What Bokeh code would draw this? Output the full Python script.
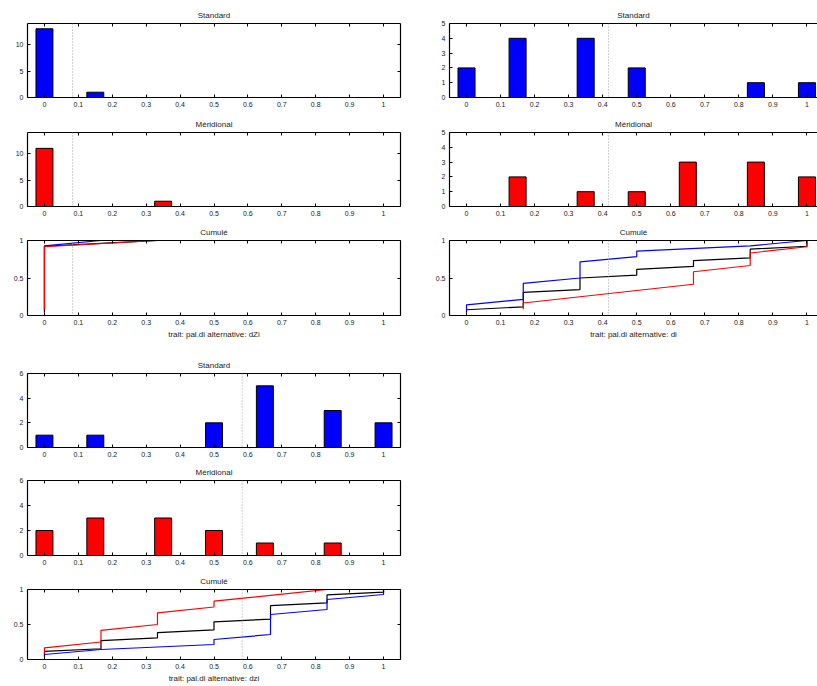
from bokeh.plotting import figure
from bokeh.layouts import column, row
from bokeh.models import (Range1d, LinearAxis, FixedTicker, PrintfTickFormatter, Span,
                          CustomLabelingPolicy)
from bokeh.embed import file_html
from bokeh.resources import INLINE

# Trait levels (0 .. 1 in sixths) and where the histogram bars are drawn
levels = [0, 1/6, 2/6, 3/6, 4/6, 5/6, 1]
bin_centers = [0, 0.15, 0.35, 0.5, 0.65, 0.85, 1]
x_ticks = [0, 0.1, 0.2, 0.3, 0.4, 0.5, 0.6, 0.7, 0.8, 0.9, 1]
cum_ticks = [0, 0.5, 1]

# alternative dZi
dZi_standard = [13, 1, 0, 0, 0, 0, 0]
dZi_meridional = [11, 0, 1, 0, 0, 0, 0]
dZi_threshold = 0.083
dZi_ymax = 14
dZi_yticks = [0, 5, 10]

# alternative di
di_standard = [2, 4, 4, 2, 0, 1, 1]
di_meridional = [0, 2, 1, 1, 3, 3, 2]
di_threshold = 0.417
di_ymax = 5
di_yticks = [0, 1, 2, 3, 4, 5]

# alternative dzi
dzi_standard = [1, 1, 0, 2, 5, 3, 2]
dzi_meridional = [2, 3, 3, 2, 1, 1, 0]
dzi_threshold = 0.583
dzi_ymax = 6
dzi_yticks = [0, 2, 4, 6]

FONT = "Liberation Sans"
TEXT = "#222222"
BLUE = "#0000ff"
RED = "#ff0000"

# top / right axes only carry tick marks: skip every label
NO_LABELS = "return new Set()"


def add_axis(p, place, ticks, labels=True):
    ax = LinearAxis(ticker=FixedTicker(ticks=ticks),
                    formatter=PrintfTickFormatter(format="%g"))
    ax.major_tick_in = 3
    ax.major_tick_out = 0
    ax.minor_tick_line_color = None
    ax.axis_line_color = "black"
    ax.axis_line_width = 1.2
    ax.major_tick_line_color = "black"
    ax.major_label_text_font = FONT
    ax.major_label_text_color = TEXT
    if labels:
        ax.major_label_text_font_size = "7px"
        ax.major_label_standoff = 4
    else:
        ax.major_label_text_font_size = "0px"
        ax.major_label_standoff = 0
        ax.major_label_policy = CustomLabelingPolicy(code=NO_LABELS)
    p.add_layout(ax, place)
    return ax


def make_panel(title, col, top_b, frame_h, bottom_b, ymax, yticks, xlabel=None):
    if col == 0:
        width, left_b, right_b, x_end = 408, 27, 8, 1.05
    else:
        width, left_b, right_b, x_end = 409, 41, 0, 1.031
    p = figure(width=width, height=top_b + frame_h + bottom_b,
               x_range=Range1d(-0.05, x_end), y_range=Range1d(0, ymax),
               output_backend="svg", toolbar_location=None,
               x_axis_location=None, y_axis_location=None,
               min_border_left=left_b, min_border_right=right_b,
               min_border_top=top_b, min_border_bottom=bottom_b,
               outline_line_color=None, background_fill_color="white",
               border_fill_color="white")
    p.grid.visible = False
    bx = add_axis(p, "below", x_ticks)
    add_axis(p, "above", x_ticks, labels=False)
    add_axis(p, "left", yticks)
    if col == 0:
        add_axis(p, "right", yticks, labels=False)
    if xlabel:
        bx.axis_label = xlabel
        bx.axis_label_text_font = FONT
        bx.axis_label_text_font_size = "8px"
        bx.axis_label_text_font_style = "normal"
        bx.axis_label_text_color = TEXT
        bx.axis_label_standoff = 2
    p.title.text = title
    p.title.align = "center"
    p.title.text_font = FONT
    p.title.text_font_size = "8px"
    p.title.text_font_style = "normal"
    p.title.text_color = TEXT
    p.title.standoff = 8
    return p


def threshold_line(p, thr):
    p.add_layout(Span(location=thr, dimension="height", line_color="#a0a0a0",
                      line_dash="1 2", line_width=1))


def hist_panel(title, col, counts, color, thr, dims, ymax, yticks):
    top_b, frame_h, bottom_b = dims
    p = make_panel(title, col, top_b, frame_h, bottom_b, ymax, yticks)
    threshold_line(p, thr)
    p.vbar(x=bin_centers, top=counts, width=0.05, bottom=0,
           fill_color=color, line_color="black", line_width=1)
    return p


def ecdf(counts):
    # sorted sample plotted against rank / n, so ties give vertical steps
    n = sum(counts)
    xs, ys = [], []
    cum = 0
    for v, c in zip(levels, counts):
        if c == 0:
            continue
        xs += [v, v]
        ys += [(cum + 1) / n, (cum + c) / n]
        cum += c
    return xs, ys


def cum_panel(col, std, mer, thr, dims, xlabel):
    top_b, frame_h, bottom_b = dims
    p = make_panel("Cumulé", col, top_b, frame_h, bottom_b, 1, cum_ticks, xlabel)
    threshold_line(p, thr)
    both = [a + b for a, b in zip(std, mer)]
    for counts, color in ((both, "black"), (std, BLUE), (mer, RED)):
        xs, ys = ecdf(counts)
        p.line(xs, ys, line_color=color, line_width=1.2)
    return p


# (top border, frame height, bottom border) of each panel
D1, D2, D3 = (23, 74, 15), (20, 74, 15), (19, 75, 38)
D4, D5, D6 = (20, 74, 14), (19, 75, 15), (19, 75, 21)

# column 1, group 1 (dZi)
a1 = hist_panel("Standard", 0, dZi_standard, BLUE, dZi_threshold, D1, dZi_ymax, dZi_yticks)
a2 = hist_panel("Méridional", 0, dZi_meridional, RED, dZi_threshold, D2, dZi_ymax, dZi_yticks)
a3 = cum_panel(0, dZi_standard, dZi_meridional, dZi_threshold, D3,
               "trait: pal.di alternative: dZi")
# column 1, group 2 (dzi)
a4 = hist_panel("Standard", 0, dzi_standard, BLUE, dzi_threshold, D4, dzi_ymax, dzi_yticks)
a5 = hist_panel("Méridional", 0, dzi_meridional, RED, dzi_threshold, D5, dzi_ymax, dzi_yticks)
a6 = cum_panel(0, dzi_standard, dzi_meridional, dzi_threshold, D6,
               "trait: pal.di alternative: dzi")
# column 2 (di)
b1 = hist_panel("Standard", 1, di_standard, BLUE, di_threshold, D1, di_ymax, di_yticks)
b2 = hist_panel("Méridional", 1, di_meridional, RED, di_threshold, D2, di_ymax, di_yticks)
b3 = cum_panel(1, di_standard, di_meridional, di_threshold, D3,
               "trait: pal.di alternative: di")

layout = row(column(a1, a2, a3, a4, a5, a6, spacing=0),
             column(b1, b2, b3, spacing=0), spacing=0)

open("out.html", "w").write(file_html(layout, INLINE))
